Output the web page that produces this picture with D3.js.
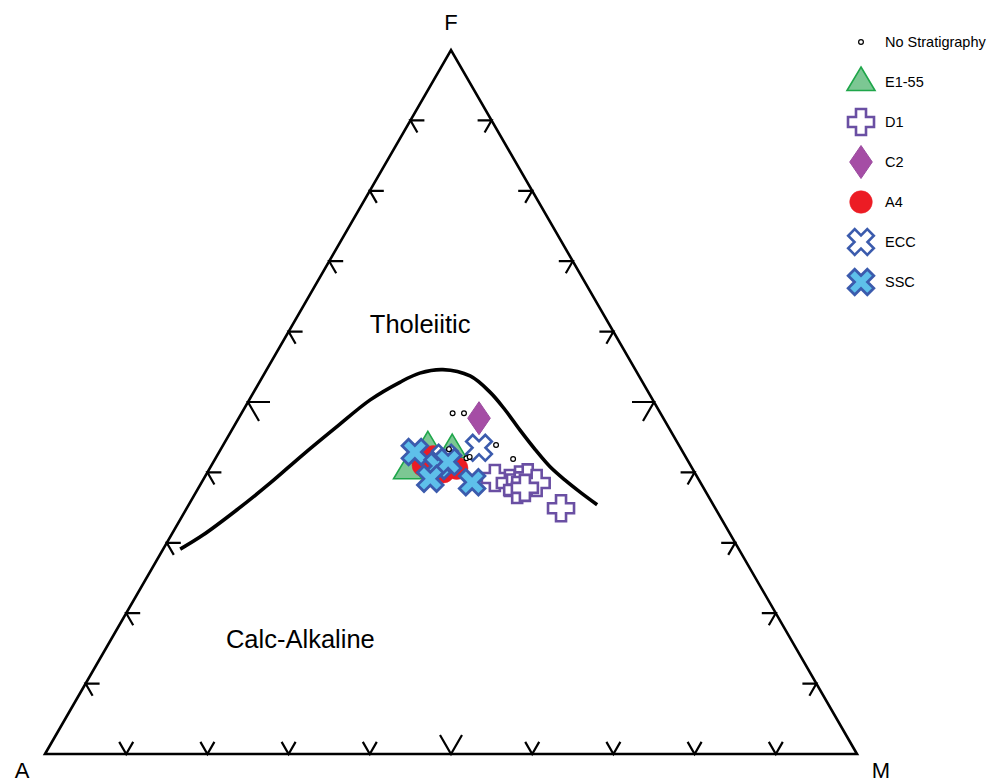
<!DOCTYPE html>
<html>
<head>
<meta charset="utf-8">
<script src="https://cdn.jsdelivr.net/npm/d3@7.9.0/dist/d3.min.js"></script>
<style>
  body { margin: 0; background: #fff; }
  svg { display: block; font-family: "Liberation Sans", Arial, sans-serif; }
</style>
</head>
<body>
<svg width="997" height="784"></svg>
<script>
// compositions as [A, F, M] in percent
const boundary = [
  [68.8, 29.1, 2.1], [65.0, 31.1, 3.9], [59.0, 34.7, 6.3], [53.0, 38.5, 8.5],
  [47.0, 42.5, 10.5], [40.8, 46.5, 12.7], [34.8, 50.3, 14.9], [29.9, 52.8, 17.3],
  [26.8, 54.1, 19.1], [23.7, 54.6, 21.7], [20.8, 53.7, 25.5], [19.5, 51.4, 29.1],
  [18.9, 48.9, 32.2], [18.5, 46.0, 35.5], [18.0, 43.2, 38.8], [17.4, 40.8, 41.8],
  [16.5, 38.9, 44.6], [15.5, 37.2, 47.3], [14.3, 35.4, 50.3]
];

const e155 = [[31.0, 43.7, 25.3], [28.2, 43.3, 28.5], [35.2, 40.3, 24.5]];
const d1 = [
  [25.0, 39.2, 35.8], [23.5, 38.5, 38.0], [22.0, 39.0, 39.0], [20.9, 39.3, 39.8],
  [20.2, 38.5, 41.3], [23.1, 37.5, 39.4], [22.0, 37.8, 40.2], [19.0, 34.9, 46.1]
];
const c2 = [[22.7, 47.7, 29.6]];
const a4 = [[31.1, 42.2, 26.7], [29.0, 40.6, 30.4], [30.9, 40.1, 29.0], [32.9, 41.0, 26.1]];
const ecc = [[29.7, 42.1, 28.2], [24.8, 43.5, 31.7]];
const ssc = [[33.0, 42.9, 24.1], [31.2, 40.9, 27.9], [29.6, 41.5, 28.9], [33.0, 39.1, 27.9], [28.1, 38.6, 33.3]];
const noStrat = [
  [25.6, 48.4, 26.0], [24.2, 48.4, 27.4], [22.5, 43.9, 33.6], [21.4, 41.9, 36.7],
  [28.6, 43.3, 28.1], [27.1, 42.0, 30.9], [26.6, 42.2, 31.2]
];

const tickValues = [10, 20, 30, 40, 50, 60, 70, 80, 90];
const vertexLabels = ["A", "F", "M"];
const fieldLabels = [
  { text: "Tholeiitic", comp: [23.9, 59.8, 16.3] },
  { text: "Calc-Alkaline", comp: [61.0, 15.1, 23.9] }
];
const legendNames = ["No Stratigraphy", "E1-55", "D1", "C2", "A4", "ECC", "SSC"];

const svg = d3.select("svg");
const x = d3.scaleLinear().domain([0, 1]).range([45, 857]);
const y = d3.scaleLinear().domain([0, Math.sqrt(3) / 2]).range([754, 50]);

function proj(c) {
  const s = c[0] + c[1] + c[2];
  const f = c[1] / s, m = c[2] / s;
  return [x(m + f / 2), y(f * Math.sqrt(3) / 2)];
}

// symbols
function plusPath(s, a) {
  return `M${-a},${-s}H${a}V${-a}H${s}V${a}H${a}V${s}H${-a}V${a}H${-s}V${-a}H${-a}Z`;
}
function xPath(L, a) {
  const pts = [[-a, -L], [a, -L], [a, -a], [L, -a], [L, a], [a, a], [a, L], [-a, L], [-a, a], [-L, a], [-L, -a], [-a, -a]];
  const r = Math.PI / 4;
  return "M" + pts.map(([px, py]) => [px * Math.cos(r) - py * Math.sin(r), px * Math.sin(r) + py * Math.cos(r)].map(v => v.toFixed(2)).join(",")).join("L") + "Z";
}
const styles = {
  "No Stratigraphy": { d: d3.symbol(d3.symbolCircle, 18)(), fill: "#fff", stroke: "#000", sw: 1.2 },
  "E1-55": { d: "M0,-15L14,8.5L-14,8.5Z", fill: "#7cc793", stroke: "#1fa64a", sw: 1.6 },
  "D1": { d: plusPath(13, 5), fill: "#fff", stroke: "#6a4fa3", sw: 2.6 },
  "C2": { d: "M0,-16.5L11.3,0L0,16.5L-11.3,0Z", fill: "#a54da5", stroke: "#9b4b9f", sw: 1 },
  "A4": { d: d3.symbol(d3.symbolCircle, Math.PI * 11.3 * 11.3)(), fill: "#ec1c24", stroke: "#ec1c24", sw: 0.5 },
  "ECC": { d: xPath(13.5, 4.6), fill: "#fff", stroke: "#3b5bad", sw: 2.6 },
  "SSC": { d: xPath(13.5, 4.6), fill: "#5ec0ea", stroke: "#3b5bad", sw: 2.8 }
};

// triangle outline
const corners = [[100, 0, 0], [0, 100, 0], [0, 0, 100]];
svg.append("path")
  .attr("d", d3.line()(corners.map(proj)) + "Z")
  .attr("fill", "none").attr("stroke", "#000").attr("stroke-width", 2.6)
  .attr("stroke-linejoin", "miter");

// chevron ticks, arms at +-30 deg from the inward normal
const edges = [
  { comp: t => [100 - t, 0, t], normal: -90 },
  { comp: t => [100 - t, t, 0], normal: 30 },
  { comp: t => [0, t, 100 - t], normal: 150 }
];
edges.forEach(e => {
  tickValues.forEach(t => {
    const p = proj(e.comp(t));
    const len = t === 50 ? 22 : 14;
    const a1 = (e.normal - 30) * Math.PI / 180, a2 = (e.normal + 30) * Math.PI / 180;
    svg.append("path")
      .attr("d", d3.line()([
        [p[0] + len * Math.cos(a1), p[1] + len * Math.sin(a1)],
        p,
        [p[0] + len * Math.cos(a2), p[1] + len * Math.sin(a2)]
      ]))
      .attr("fill", "none").attr("stroke", "#000").attr("stroke-width", 2.2);
  });
});

// boundary curve
svg.append("path")
  .attr("d", d3.line().curve(d3.curveCatmullRom)(boundary.map(proj)))
  .attr("fill", "none").attr("stroke", "#000").attr("stroke-width", 3.6)
  .attr("stroke-linecap", "butt");

// vertex labels
const vpos = [[22, 778], [451, 30], [881, 778]];
vertexLabels.forEach((l, i) => {
  svg.append("text").attr("x", vpos[i][0]).attr("y", vpos[i][1])
    .attr("text-anchor", "middle").attr("font-size", 22).text(l);
});

fieldLabels.forEach(f => {
  const p = proj(f.comp);
  svg.append("text").attr("x", p[0]).attr("y", p[1])
    .attr("text-anchor", "middle").attr("font-size", 25.5).text(f.text);
});

// data points
const series = [["E1-55", e155], ["D1", d1], ["C2", c2], ["A4", a4], ["ECC", ecc], ["SSC", ssc], ["No Stratigraphy", noStrat]];
series.forEach(([name, data]) => {
  const st = styles[name];
  svg.append("g").selectAll("path").data(data).join("path")
    .attr("transform", d => `translate(${proj(d)})`)
    .attr("d", st.d).attr("fill", st.fill).attr("stroke", st.stroke)
    .attr("stroke-width", st.sw).attr("stroke-linejoin", "miter");
});

// legend
const ly = d3.scalePoint().domain(legendNames).range([42, 282]);
const legend = svg.append("g");
legendNames.forEach(n => {
  const st = styles[n];
  legend.append("path").attr("transform", `translate(861,${ly(n)})`)
    .attr("d", st.d).attr("fill", st.fill).attr("stroke", st.stroke).attr("stroke-width", st.sw);
  legend.append("text").attr("x", 885).attr("y", ly(n) + 5)
    .attr("font-size", 14.5).text(n);
});
</script>
</body>
</html>
